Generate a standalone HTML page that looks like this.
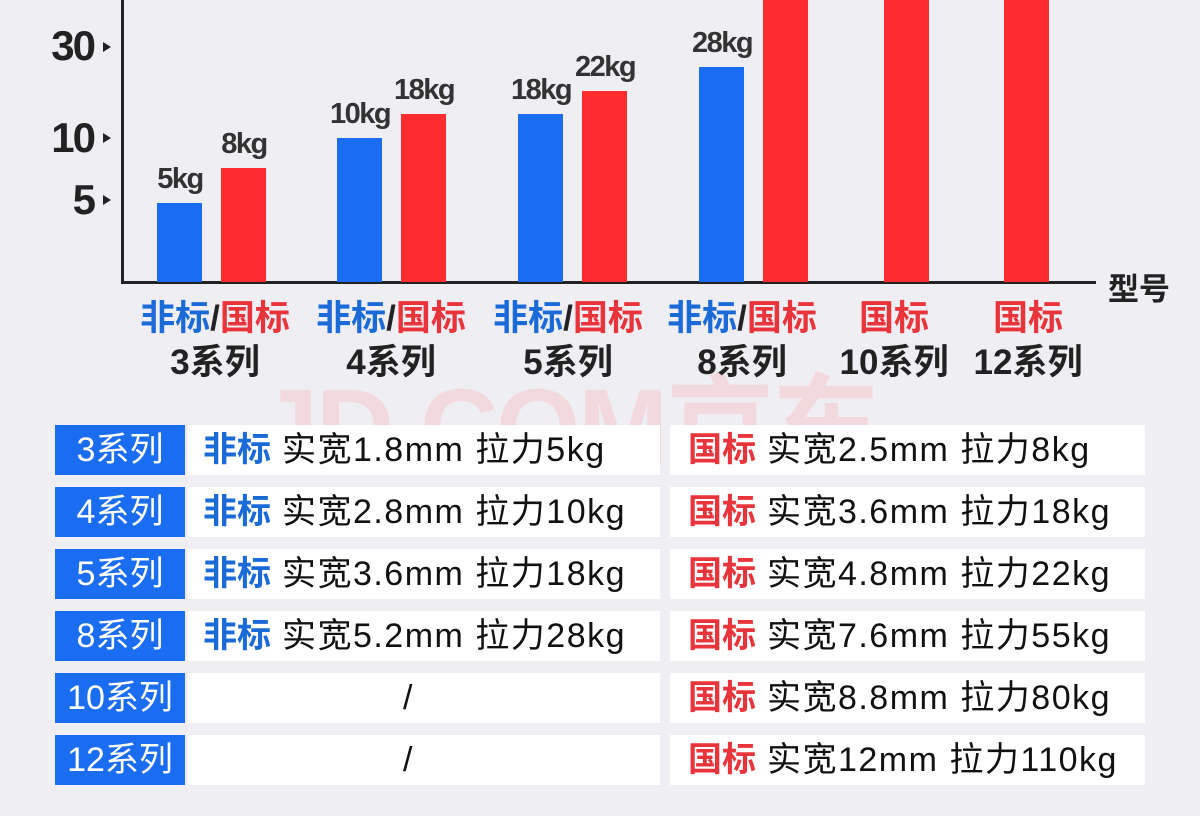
<!DOCTYPE html><html><head><meta charset="utf-8"><style>
body{margin:0;width:1200px;height:816px;background:#efeef3;position:relative;overflow:hidden;font-family:"Liberation Sans","Noto Sans CJK SC",sans-serif}
.a{position:absolute}
.bar{position:absolute;width:45px}
.b{background:#1a6cf0}.r{background:#fd2c2f}
.v{position:absolute;font-size:29px;font-weight:bold;color:#333;width:100px;text-align:center;letter-spacing:-1.5px}
.t{position:absolute;font-size:42px;font-weight:bold;color:#222;text-align:right;width:94px;left:0;letter-spacing:-2px}
.tri{position:absolute;left:103px;width:0;height:0;border-left:8px solid #222;border-top:5px solid transparent;border-bottom:5px solid transparent}
.c{position:absolute;width:200px;text-align:center;font-weight:bold;font-size:35px;line-height:44px;color:#222}
.bl{color:#1a6ad8}.rd{color:#e8343a}
.row{position:absolute;height:50px;font-size:34px;line-height:50px;white-space:nowrap;letter-spacing:1.5px}
.lab{left:55px;width:130px;background:#1a6cf0;color:#fff;text-align:center;letter-spacing:0}
.w1{left:188px;width:472px;background:#fff;padding-left:15px;box-sizing:border-box;color:#111}
.w2{left:670px;width:475px;background:#fff;padding-left:18px;box-sizing:border-box;color:#111}
.row .bl,.row .rd{font-weight:bold;letter-spacing:0}
</style></head><body>
<div class="a" style="left:258px;top:340px;font-size:108px;color:rgba(255,110,110,0.16);font-weight:bold;letter-spacing:-2px">JD.COM京东</div>
<div class="a" style="left:121px;top:0;width:3px;height:284px;background:#222"></div>
<div class="a" style="left:121px;top:281px;width:975px;height:3px;background:#222"></div>
<div class="a" style="left:1108px;top:264px;font-size:31px;font-weight:bold;color:#222">型号</div>
<div class="t" style="top:22px">30</div><div class="tri" style="top:42px"></div>
<div class="t" style="top:114px">10</div><div class="tri" style="top:133px"></div>
<div class="t" style="top:176px">5</div><div class="tri" style="top:195px"></div>
<div class="bar b" style="left:157px;top:203px;height:79px"></div>
<div class="bar r" style="left:221px;top:168px;height:114px"></div>
<div class="bar b" style="left:337px;top:138px;height:144px"></div>
<div class="bar r" style="left:401px;top:114px;height:168px"></div>
<div class="bar b" style="left:518px;top:114px;height:168px"></div>
<div class="bar r" style="left:582px;top:91px;height:191px"></div>
<div class="bar b" style="left:699px;top:67px;height:215px"></div>
<div class="bar r" style="left:763px;top:0;height:282px"></div>
<div class="bar r" style="left:884px;top:0;height:282px"></div>
<div class="bar r" style="left:1004px;top:0;height:282px"></div>
<div class="v" style="left:130px;top:163px">5kg</div>
<div class="v" style="left:194px;top:128px">8kg</div>
<div class="v" style="left:310px;top:98px">10kg</div>
<div class="v" style="left:374px;top:74px">18kg</div>
<div class="v" style="left:491px;top:74px">18kg</div>
<div class="v" style="left:555px;top:51px">22kg</div>
<div class="v" style="left:672px;top:27px">28kg</div>
<div class="c" style="left:115px;top:297px"><span class="bl">非标</span>/<span class="rd">国标</span><br>3系列</div>
<div class="c" style="left:291px;top:297px"><span class="bl">非标</span>/<span class="rd">国标</span><br>4系列</div>
<div class="c" style="left:468px;top:297px"><span class="bl">非标</span>/<span class="rd">国标</span><br>5系列</div>
<div class="c" style="left:642px;top:297px"><span class="bl">非标</span>/<span class="rd">国标</span><br>8系列</div>
<div class="c" style="left:794px;top:297px"><span class="rd">国标</span><br>10系列</div>
<div class="c" style="left:928px;top:297px"><span class="rd">国标</span><br>12系列</div>

<div class="row lab" style="top:425px">3系列</div><div class="row w1" style="top:425px"><span class="bl">非标</span> 实宽1.8mm 拉力5kg</div><div class="row w2" style="top:425px"><span class="rd">国标</span> 实宽2.5mm 拉力8kg</div>
<div class="row lab" style="top:487px">4系列</div><div class="row w1" style="top:487px"><span class="bl">非标</span> 实宽2.8mm 拉力10kg</div><div class="row w2" style="top:487px"><span class="rd">国标</span> 实宽3.6mm 拉力18kg</div>
<div class="row lab" style="top:549px">5系列</div><div class="row w1" style="top:549px"><span class="bl">非标</span> 实宽3.6mm 拉力18kg</div><div class="row w2" style="top:549px"><span class="rd">国标</span> 实宽4.8mm 拉力22kg</div>
<div class="row lab" style="top:611px">8系列</div><div class="row w1" style="top:611px"><span class="bl">非标</span> 实宽5.2mm 拉力28kg</div><div class="row w2" style="top:611px"><span class="rd">国标</span> 实宽7.6mm 拉力55kg</div>
<div class="row lab" style="top:673px">10系列</div><div class="row w1" style="top:673px;padding-left:215px">/</div><div class="row w2" style="top:673px"><span class="rd">国标</span> 实宽8.8mm 拉力80kg</div>
<div class="row lab" style="top:735px">12系列</div><div class="row w1" style="top:735px;padding-left:215px">/</div><div class="row w2" style="top:735px"><span class="rd">国标</span> 实宽12mm 拉力110kg</div>
</body></html>
